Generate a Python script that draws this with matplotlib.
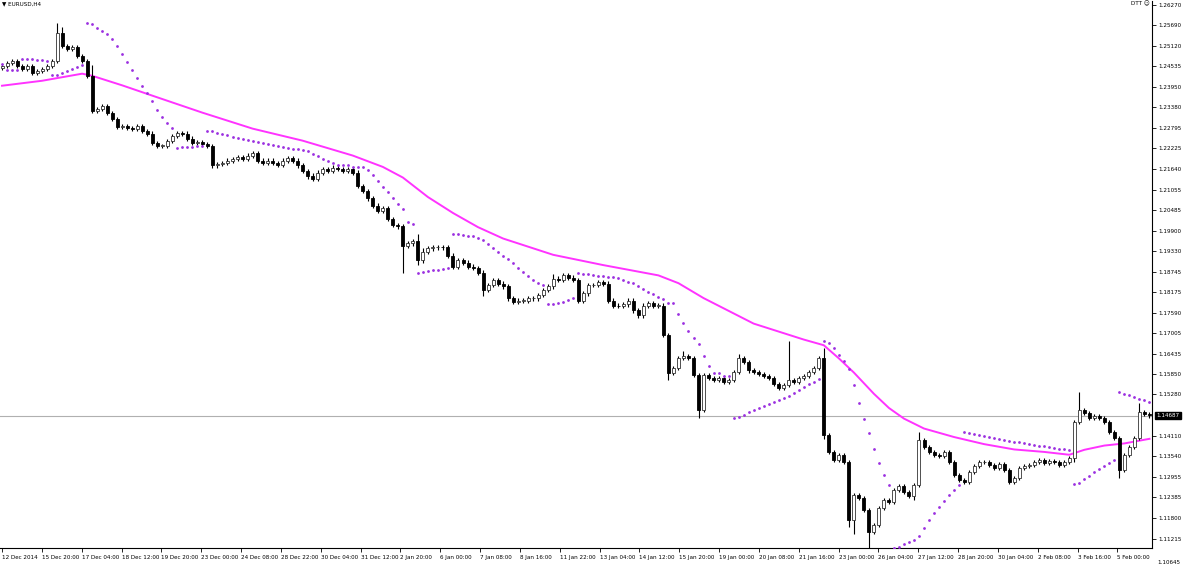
import matplotlib
matplotlib.use("Agg")
import matplotlib.pyplot as plt
import numpy as np

# --- EURUSD H4 closes (one per candle) ---
closes = [
    1.2455, 1.2463, 1.2469, 1.2455, 1.2447, 1.2455, 1.2435, 1.2441, 1.2447, 1.2455,
    1.2469, 1.2548, 1.2511, 1.2503, 1.2508, 1.2483, 1.2469, 1.2427, 1.2328, 1.2334,
    1.2342, 1.2323, 1.2306, 1.2283, 1.2286, 1.2280, 1.2278, 1.2286, 1.2272, 1.2264,
    1.2238, 1.2230, 1.2230, 1.2244, 1.2258, 1.2266, 1.2264, 1.2250, 1.2238, 1.2241,
    1.2235, 1.2230, 1.2174, 1.2179, 1.2182, 1.2188, 1.2193, 1.2199, 1.2193, 1.2202,
    1.2210, 1.2188, 1.2182, 1.2188, 1.2182, 1.2176, 1.2188, 1.2196, 1.2188, 1.2174,
    1.2159, 1.2143, 1.2137, 1.2154, 1.2165, 1.2159, 1.2168, 1.2165, 1.2159, 1.2165,
    1.2154, 1.2117, 1.2103, 1.2081, 1.2061, 1.2047, 1.2053, 1.2024, 1.2007, 1.2002,
    1.1948, 1.1954, 1.1962, 1.1906, 1.1929, 1.1940, 1.1943, 1.1945, 1.1943, 1.1920,
    1.1889, 1.1906, 1.1900, 1.1889, 1.1884, 1.1872, 1.1822, 1.1836, 1.1850, 1.1841,
    1.1833, 1.1799, 1.1788, 1.1793, 1.1793, 1.1799, 1.1799, 1.1808, 1.1822, 1.1833,
    1.1855, 1.1850, 1.1864, 1.1858, 1.1850, 1.1793, 1.1813, 1.1836, 1.1836, 1.1844,
    1.1841, 1.1793, 1.1779, 1.1777, 1.1782, 1.1793, 1.1765, 1.1751, 1.1779, 1.1785,
    1.1779, 1.1779, 1.1695, 1.1588, 1.1602, 1.1630, 1.1636, 1.1630, 1.1582, 1.1484,
    1.1582, 1.1574, 1.1568, 1.1574, 1.1563, 1.1568, 1.1591, 1.1630, 1.1619, 1.1596,
    1.1591, 1.1585, 1.1580, 1.1574, 1.1557, 1.1546, 1.1554, 1.1568, 1.1563, 1.1574,
    1.1580, 1.1591, 1.1602, 1.1630, 1.1413, 1.1366, 1.1343, 1.1357, 1.1337, 1.1174,
    1.1245, 1.1236, 1.1202, 1.1140, 1.1160, 1.1208, 1.1231, 1.1225, 1.1259, 1.1270,
    1.1253, 1.1242, 1.1273, 1.1399, 1.1380, 1.1366, 1.1357, 1.1354, 1.1366, 1.1337,
    1.1301, 1.1287, 1.1281, 1.1309, 1.1326, 1.1337, 1.1337, 1.1329, 1.1320, 1.1332,
    1.1315, 1.1281, 1.1292, 1.1321, 1.1326, 1.1329, 1.1337, 1.1343, 1.1335, 1.1340,
    1.1337, 1.1329, 1.1337, 1.1349, 1.1450, 1.1484, 1.1475, 1.1461, 1.1467, 1.1461,
    1.1450, 1.1422, 1.1405, 1.1315, 1.1357, 1.1380, 1.1405, 1.1478, 1.1472, 1.1469,
]
first_open = 1.2449

# wick lengths in pips beyond the body; candles not listed have short wicks
wick_default = 6
wick_up = {11: 28, 12: 18, 18: 30, 83: 20, 84: 12, 147: 12, 157: 110, 164: 30,
           183: 23, 215: 51, 227: 25, 110: 12, 62: 10, 136: 15}
wick_down = {80: 76, 83: 14, 96: 16, 139: 23, 170: 40, 169: 20, 173: 45, 223: 23,
             133: 20, 164: 10, 182: 12, 214: 10}

# 100-period moving average (pink), read at candle indices
ma_idx = [0, 8, 16, 18, 24, 30, 40, 50, 60, 70, 76, 80, 85, 90, 95, 100, 110, 120,
          131, 135, 140, 150, 160, 164, 167, 170, 174, 177, 180, 184, 190, 196, 202,
          208, 213, 216, 220, 224, 229]
ma_vals = [1.2399, 1.2413, 1.2433, 1.2427, 1.2400, 1.2371, 1.2323, 1.2278, 1.2244,
           1.2202, 1.2170, 1.2140, 1.2085, 1.2040, 1.2000, 1.1968, 1.1922, 1.1893,
           1.1864, 1.1842, 1.1800, 1.1728, 1.1683, 1.1667, 1.1630, 1.1590, 1.1530,
           1.1490, 1.1460, 1.1432, 1.1408, 1.1388, 1.1373, 1.1366, 1.1358, 1.1372,
           1.1384, 1.1390, 1.1403]

price_ticks = [1.26270, 1.25690, 1.25120, 1.24535, 1.23950, 1.23380, 1.22795, 1.22225,
               1.21640, 1.21055, 1.20485, 1.19900, 1.19330, 1.18745, 1.18175, 1.17590,
               1.17005, 1.16435, 1.15850, 1.15280, 1.14110, 1.13540, 1.12955, 1.12385,
               1.11800, 1.11215]
bottom_tick = 1.10645
last_price = 1.14687

time_labels = ["12 Dec 2014", "15 Dec 20:00", "17 Dec 04:00", "18 Dec 12:00", "19 Dec 20:00",
               "23 Dec 00:00", "24 Dec 08:00", "28 Dec 22:00", "30 Dec 04:00", "31 Dec 12:00",
               "2 Jan 20:00", "6 Jan 00:00", "7 Jan 08:00", "8 Jan 16:00", "11 Jan 22:00",
               "13 Jan 04:00", "14 Jan 12:00", "15 Jan 20:00", "19 Jan 00:00", "20 Jan 08:00",
               "21 Jan 16:00", "23 Jan 00:00", "26 Jan 04:00", "27 Jan 12:00", "28 Jan 20:00",
               "30 Jan 04:00", "2 Feb 08:00", "3 Feb 16:00", "5 Feb 00:00"]

n = len(closes)
closes = np.array(closes)
opens = np.concatenate([[first_open], closes[:-1]])
pip = 0.0001
highs = np.array([max(o, c) + wick_up.get(i, wick_default) * pip
                  for i, (o, c) in enumerate(zip(opens, closes))])
lows = np.array([min(o, c) - wick_down.get(i, wick_default) * pip
                 for i, (o, c) in enumerate(zip(opens, closes))])


def parabolic_sar(hi, lo, step=0.02, max_af=0.2):
    sar = np.zeros(len(hi))
    up = False
    af = step
    ep = lo[0]
    sar[0] = hi[0]
    for i in range(1, len(hi)):
        s = sar[i - 1] + af * (ep - sar[i - 1])
        if up:
            s = min(s, lo[i - 1], lo[max(i - 2, 0)])
            if lo[i] < s:
                up, s, ep, af = False, ep, lo[i], step
            elif hi[i] > ep:
                ep, af = hi[i], min(af + step, max_af)
        else:
            s = max(s, hi[i - 1], hi[max(i - 2, 0)])
            if hi[i] > s:
                up, s, ep, af = True, ep, hi[i], step
            elif lo[i] < ep:
                ep, af = lo[i], min(af + step, max_af)
        sar[i] = s
    return sar


sar = parabolic_sar(highs, lows)

W, H = 1187, 571
fig = plt.figure(figsize=(W / 100, H / 100), dpi=100)
fig.patch.set_facecolor("white")
ax = fig.add_axes([0, 1 - 548 / H, 1152 / W, 547 / H])
ax.set_facecolor("white")

x = np.arange(n)
ax.vlines(x, lows, highs, color="black", lw=0.8, zorder=3)
bull = closes >= opens
body_lo = np.minimum(opens, closes)
body_h = np.maximum(np.abs(closes - opens), 0.00008)
ax.bar(x[bull], body_h[bull], bottom=body_lo[bull], width=0.6,
       color="white", edgecolor="#333333", lw=0.6, zorder=4)
ax.bar(x[~bull], body_h[~bull], bottom=body_lo[~bull], width=0.6,
       color="black", edgecolor="black", lw=0.6, zorder=4)

ax.plot(ma_idx, ma_vals, color="#FF33FF", lw=1.4, zorder=2)
ax.scatter(x, sar, s=4, color="#9B30E0", marker="o", lw=0, zorder=5)
ax.axhline(last_price, color="#B0B0B0", lw=0.8, zorder=1)

ax.set_xlim(-0.4, n - 0.5)
ax.set_ylim(1.1095, 1.2638)
ax.yaxis.tick_right()
ax.set_yticks(price_ticks)
ax.set_yticklabels([f"{p:.5f}" for p in price_ticks])
ax.set_xticks(np.arange(len(time_labels)) * 7.95)
ax.set_xticklabels(time_labels, ha="left")
ax.tick_params(axis="both", labelsize=4.1, length=3, width=0.6, colors="black", pad=1.5)
ax.tick_params(axis="x", pad=2)
for sp in ["top", "left"]:
    ax.spines[sp].set_visible(False)
for sp in ["right", "bottom"]:
    ax.spines[sp].set_linewidth(0.8)

ax.text(1.004, (last_price - 1.1095) / (1.2638 - 1.1095), f"{last_price:.5f}",
        transform=ax.transAxes, fontsize=4.1, color="white", va="center", ha="left",
        bbox=dict(boxstyle="square,pad=0.25", fc="black", ec="black"))
fig.text(1157 / W, 1 - 562 / H, f"{bottom_tick:.5f}", fontsize=4.1, va="center")
fig.text(0.002, 1 - 4 / H, "▼ EURUSD,H4", fontsize=4.1, va="center")
fig.text(1150 / W, 1 - 4 / H, "DTT ☺", fontsize=4.1, va="center", ha="right")

fig.savefig("out.png", dpi=100, facecolor="white")
